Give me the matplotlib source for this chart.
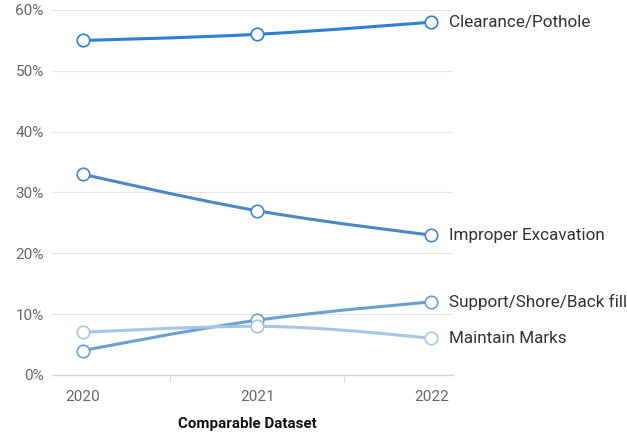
import matplotlib.pyplot as plt
from matplotlib.path import Path
from matplotlib.patches import PathPatch

plt.rcParams['font.family'] = ['Roboto', 'DejaVu Sans']

# data
years = ['2020', '2021', '2022']
series_names = ['Clearance/Pothole', 'Improper Excavation',
                'Support/Shore/Back fill', 'Maintain Marks']
clearance = [55, 56, 58]
improper = [33, 27, 23]
support = [4, 9, 12]
maintain = [7, 8, 6]
y_ticks = [0, 10, 20, 30, 40, 50, 60]

colors = ['#2f7ed8', '#4a87c7', '#6b9fd3', '#a7c6e7']


def spline_path(xs, ys, smoothing=1.5):
    # highcharts-like spline, control points from neighbours
    n = len(xs)
    left = [(xs[i], ys[i]) for i in range(n)]
    right = [(xs[i], ys[i]) for i in range(n)]
    denom = smoothing + 1
    for i in range(1, n - 1):
        px, py = xs[i], ys[i]
        lx, ly = xs[i - 1], ys[i - 1]
        nx, ny = xs[i + 1], ys[i + 1]
        lcx = (smoothing * px + lx) / denom
        lcy = (smoothing * py + ly) / denom
        rcx = (smoothing * px + nx) / denom
        rcy = (smoothing * py + ny) / denom
        corr = 0
        if rcx != lcx:
            corr = ((rcy - lcy) * (rcx - px)) / (rcx - lcx) + py - rcy
        lcy += corr
        rcy += corr
        if lcy > ly and lcy > py:
            lcy = max(ly, py)
            rcy = 2 * py - lcy
        elif lcy < ly and lcy < py:
            lcy = min(ly, py)
            rcy = 2 * py - lcy
        if rcy > ny and rcy > py:
            rcy = max(ny, py)
            lcy = 2 * py - rcy
        elif rcy < ny and rcy < py:
            rcy = min(ny, py)
            lcy = 2 * py - rcy
        left[i] = (lcx, lcy)
        right[i] = (rcx, rcy)
    verts = [(xs[0], ys[0])]
    codes = [Path.MOVETO]
    for i in range(1, n):
        verts += [right[i - 1], left[i], (xs[i], ys[i])]
        codes += [Path.CURVE4] * 3
    return Path(verts, codes)


fig = plt.figure(figsize=(6.27, 4.33), dpi=100)
ax = fig.add_axes([0.083, 0.134, 0.640, 0.843])

xs = list(range(len(years)))
all_series = [clearance, improper, support, maintain]
for vals, name, c in zip(all_series, series_names, colors):
    ax.add_patch(PathPatch(spline_path(xs, vals), fill=False, edgecolor=c,
                           lw=2.2, capstyle='round', zorder=3))
    ax.plot(xs, vals, ls='none', marker='o', ms=9, mfc='white', mec=c,
            mew=1.2, zorder=4)
    ax.annotate(name, (xs[-1], vals[-1]), xytext=(12.5, 0),
                textcoords='offset points', va='center', ha='left',
                fontsize=12.3, color='#333333', annotation_clip=False)

ax.set_xlim(-0.178, 2.126)
ax.set_ylim(0, 60)
ax.set_yticks(y_ticks)
ax.set_yticklabels([f'{v}%' for v in y_ticks])
ax.set_xticks(xs)
ax.set_xticklabels(years)
ax.set_xticks([0.5, 1.5], minor=True)
ax.tick_params(axis='x', which='major', length=0, pad=11, labelsize=11,
               labelcolor='#666666')
ax.tick_params(axis='x', which='minor', length=5, color='#ccd6eb')
ax.tick_params(axis='y', length=0, pad=6, labelsize=11, labelcolor='#666666')
ax.grid(axis='y', color='#e6e6e6', lw=0.8)
ax.set_axisbelow(True)
for s in ['top', 'right', 'left']:
    ax.spines[s].set_visible(False)
ax.spines['bottom'].set_color('#ccd6eb')
ax.spines['bottom'].set_linewidth(1)
ax.set_xlabel('Comparable Dataset', fontsize=10.9, fontweight='bold',
              color='#111111', labelpad=7)
ax.xaxis.set_label_coords(0.486, -0.115)

fig.savefig('out.png', dpi=100)
